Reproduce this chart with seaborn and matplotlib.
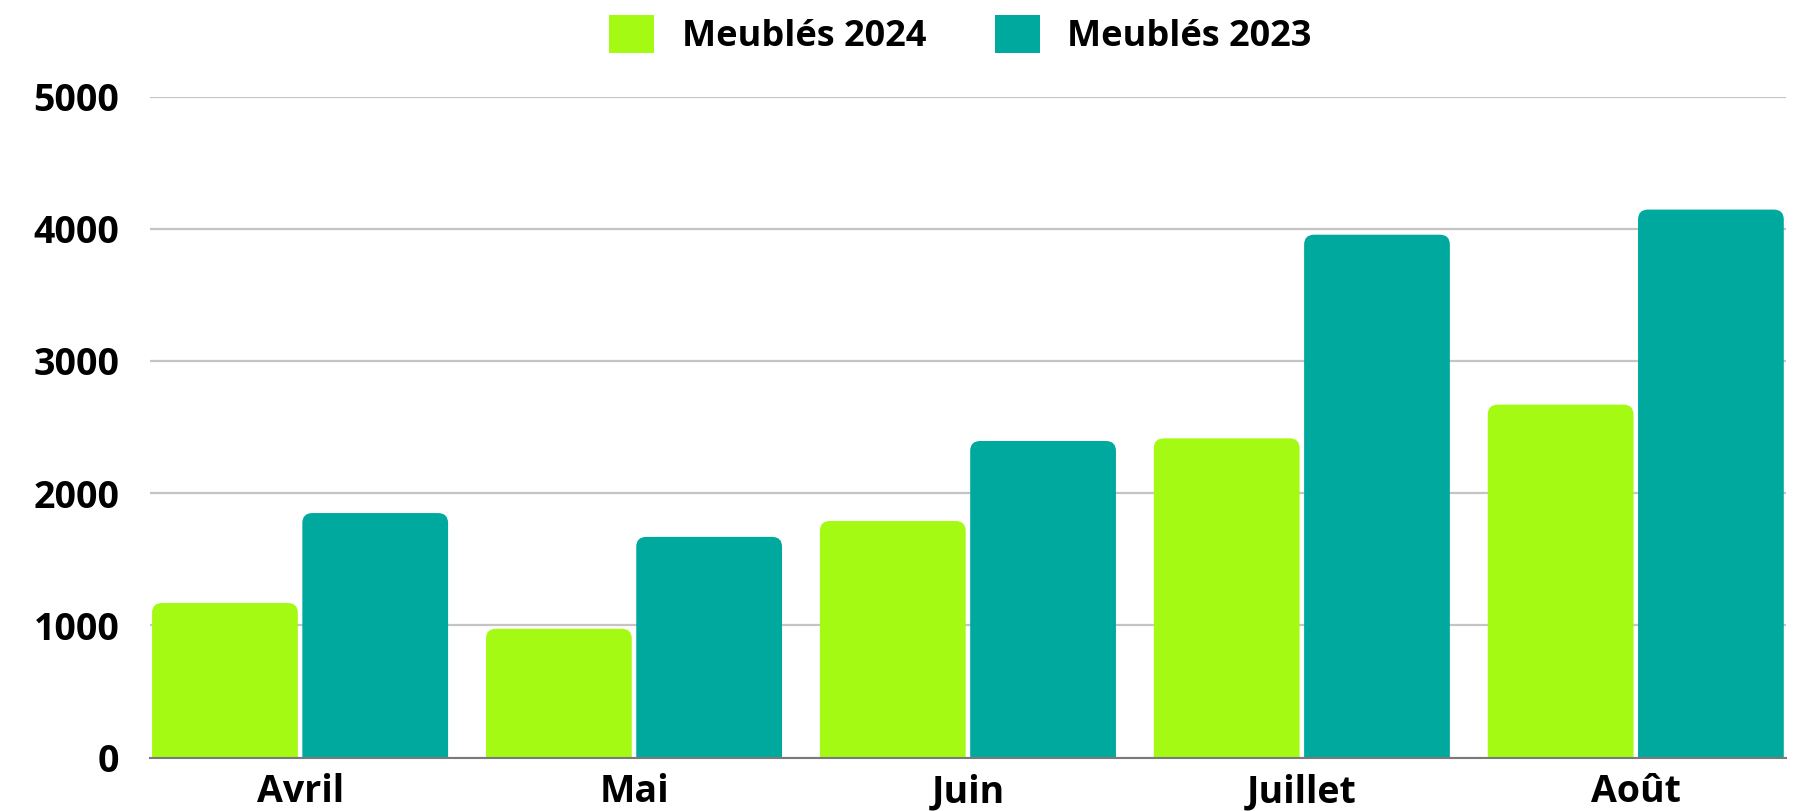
import pandas as pd
import seaborn as sns
import matplotlib.pyplot as plt
from matplotlib.patches import FancyBboxPatch, Patch

mois = ['Avril', 'Mai', 'Juin', 'Juillet', 'Août']
meubles_2024 = [1170, 975, 1790, 2415, 2670]
meubles_2023 = [1850, 1670, 2395, 3955, 4145]
series = ['Meublés 2024', 'Meublés 2023']
couleurs = ['#A4FA12', '#00A99D']

df = pd.DataFrame({
    'Mois': mois * 2,
    'Série': [series[0]] * len(mois) + [series[1]] * len(mois),
    'Valeur': meubles_2024 + meubles_2023,
})

sns.set_style('white')
plt.rcParams['font.family'] = ['Open Sans', 'DejaVu Sans']
plt.rcParams['font.weight'] = 'bold'
plt.rcParams['text.color'] = 'black'
plt.rcParams['xtick.color'] = 'black'
plt.rcParams['ytick.color'] = 'black'

fig = plt.figure(figsize=(18.05, 8.11), dpi=100)
ax = fig.add_axes([0.083, 0.0657, 0.9065, 0.8153])

sns.barplot(data=df, x='Mois', y='Valeur', hue='Série', hue_order=series,
            palette=couleurs, saturation=1, width=0.9, gap=0.03, ax=ax,
            legend=False, zorder=3)

# Remplace les barres par des barres à coins arrondis (le bas est coupé par l'axe)
barres = list(ax.patches)
for b in barres:
    x, w, h = b.get_x(), b.get_width(), b.get_height()
    c = b.get_facecolor()
    b.remove()
    ax.add_patch(FancyBboxPatch((x, -200), w, h + 200,
                                boxstyle='round,pad=0,rounding_size=0.03',
                                mutation_aspect=2500, facecolor=c,
                                edgecolor='none', zorder=3))

ax.set_xlim(-0.45, len(mois) - 0.55)
ax.set_ylim(0, 5000)
ax.set_yticks([0, 1000, 2000, 3000, 4000, 5000])
ax.yaxis.grid(True, color='#c4c4c4', linewidth=1.6, zorder=0)
ax.set_axisbelow(True)
for s in ['top', 'right', 'left']:
    ax.spines[s].set_visible(False)
ax.spines['bottom'].set_color('#7a7a7a')
ax.spines['bottom'].set_linewidth(1.5)
ax.spines['bottom'].set_zorder(4)
ax.tick_params(axis='y', length=0, pad=22, labelsize=27)
ax.tick_params(axis='x', length=0, pad=11, labelsize=27)
for t in ax.get_xticklabels() + ax.get_yticklabels():
    t.set_fontweight('bold')
ax.set_xlabel('')
ax.set_ylabel('')

handles = [Patch(facecolor=c, edgecolor='none') for c in couleurs]
fig.legend(handles, series, loc='center', bbox_to_anchor=(0.532, 0.957),
           ncol=2, frameon=False, prop={'size': 26, 'weight': 'bold'},
           handlelength=1.25, handleheight=1.25, handletextpad=0.75,
           columnspacing=1.9)

plt.savefig('out.png', dpi=100)
